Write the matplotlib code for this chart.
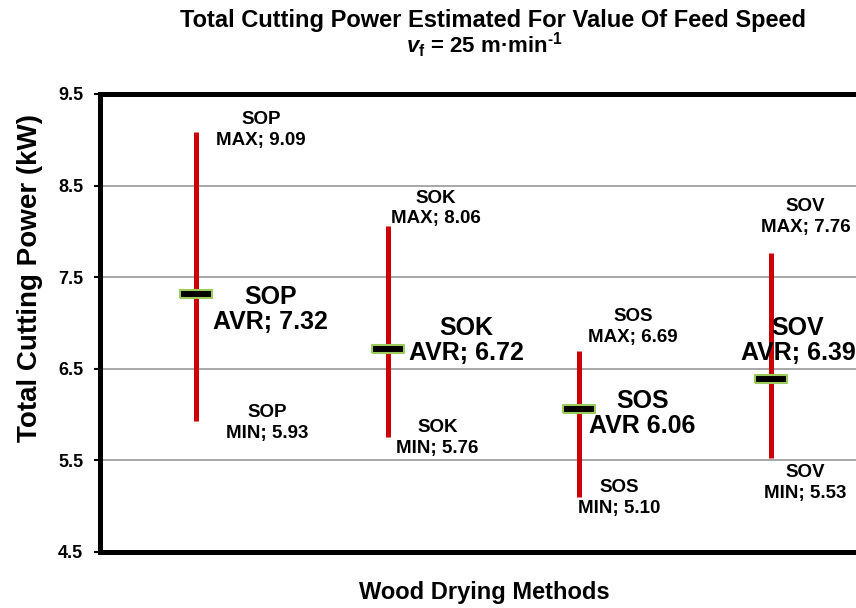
import matplotlib.pyplot as plt
import numpy as np

plt.rcParams['font.family'] = ['Liberation Sans', 'DejaVu Sans']
plt.rcParams['font.weight'] = 'bold'
plt.rcParams['mathtext.fontset'] = 'custom'
plt.rcParams['mathtext.rm'] = 'Liberation Sans:bold'
plt.rcParams['mathtext.bf'] = 'Liberation Sans:bold'
plt.rcParams['mathtext.it'] = 'Liberation Sans:bold:italic'

# data
methods = ['SOP', 'SOK', 'SOS', 'SOV']
p_max = [9.09, 8.06, 6.69, 7.76]
p_avr = [7.32, 6.72, 6.06, 6.39]
p_min = [5.93, 5.76, 5.10, 5.53]
avr_sep = ['; ', '; ', ' ', '; ']
y_ticks = [4.5, 5.5, 6.5, 7.5, 8.5, 9.5]

# label offsets (x in category units, y in kW)
max_off = [(0.34, 0.02), (0.25, 0.19), (0.28, 0.27), (0.18, 0.40)]
min_off = [(0.37, -0.02), (0.26, -0.02), (0.21, -0.01), (0.18, -0.28)]
avr_off = [(0.39, -0.17), (0.41, 0.09), (0.33, -0.05), (0.14, 0.42)]

x = np.arange(1, len(methods) + 1)

fig = plt.figure(figsize=(8.56, 6.08), dpi=100)
ax = fig.add_axes([100/856, 56/608, 767/856, 458/608])

ax.vlines(x, p_min, p_max, color='#CC0000', lw=3.6, zorder=3)
bar = [(-1, -0.27), (1, -0.27), (1, 0.27), (-1, 0.27), (-1, -0.27)]
ax.plot(x, p_avr, ls='none', marker=bar, markersize=23,
        markerfacecolor='black', markeredgecolor='#9BCB5A', markeredgewidth=1.5, zorder=4)

for i, m in enumerate(methods):
    ax.text(x[i] + max_off[i][0], p_max[i] + max_off[i][1], f'{m}\nMAX; {p_max[i]:.2f}',
            ha='center', va='center', fontsize=13.5, fontweight='bold', linespacing=1.3)
    ax.text(x[i] + min_off[i][0], p_min[i] + min_off[i][1], f'{m}\nMIN; {p_min[i]:.2f}',
            ha='center', va='center', fontsize=13.5, fontweight='bold', linespacing=1.3)
    ax.text(x[i] + avr_off[i][0], p_avr[i] + avr_off[i][1], f'{m}\nAVR{avr_sep[i]}{p_avr[i]:.2f}',
            ha='center', va='center', fontsize=18, fontweight='bold', linespacing=1.05)

ax.set_xlim(0.5, 4.5)
ax.set_ylim(4.5, 9.5)
ax.set_yticks(y_ticks)
ax.set_yticklabels([f'{t:.1f}' for t in y_ticks], fontsize=13, fontweight='bold')
ax.set_xticks([])
ax.tick_params(axis='y', direction='out', length=4, width=1.5, pad=8)
ax.grid(axis='y', color='#A0A0A0', lw=1.3)
ax.set_axisbelow(True)
for s in ['left', 'top', 'bottom']:
    ax.spines[s].set_linewidth(3.6)
ax.spines['right'].set_visible(False)

fig.text(493/856, 1 - 20/608, 'Total Cutting Power Estimated For Value Of Feed Speed',
         ha='center', va='center', fontsize=17, fontweight='bold')
fig.text(484/856, 1 - 45/608, r'$\mathit{v}_{\mathrm{f}}$ = 25 m·min$^{\mathrm{\text{-}1}}$',
         ha='center', va='center', fontsize=16, fontweight='bold')
fig.text(30/856, 1 - 278/608, 'Total Cutting Power (kW)', rotation=90,
         ha='center', va='center', fontsize=20, fontweight='bold')
fig.text(484/856, 1 - 593/608, 'Wood Drying Methods',
         ha='center', va='center', fontsize=17, fontweight='bold')

fig.savefig('out.png', dpi=100)
